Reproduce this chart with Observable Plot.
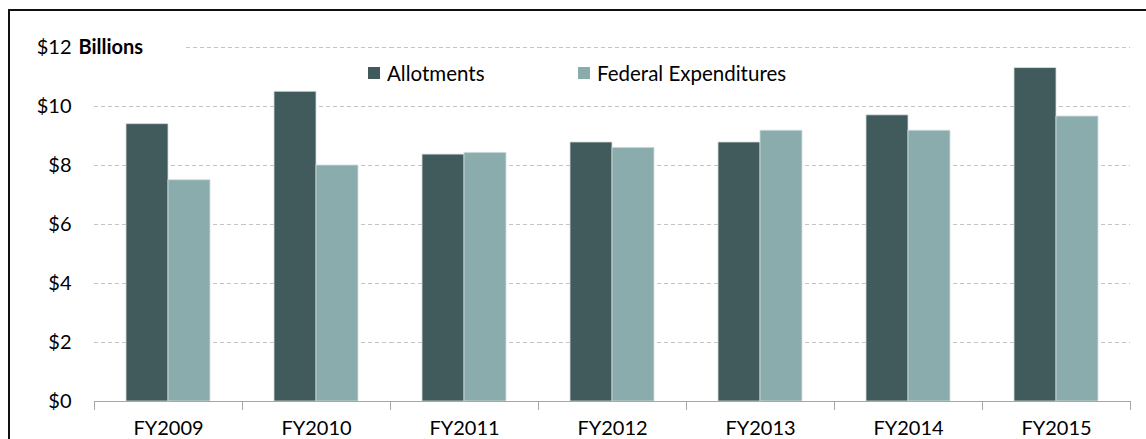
<!DOCTYPE html>
<html><head><meta charset="utf-8">
<script src="https://cdn.jsdelivr.net/npm/d3@7"></script>
<script src="https://cdn.jsdelivr.net/npm/@observablehq/plot@0.6"></script>
<style>
html,body{margin:0;padding:0;background:#fff;overflow:hidden;}
#wrap{position:relative;width:1146px;height:439px;overflow:hidden;}
#frame{position:absolute;left:8px;top:9px;width:1200px;height:500px;border:2px solid #111;box-sizing:border-box;}
#chart{position:absolute;left:0;top:0;}
.lg{position:absolute;top:61px;font:20.5px Lato,sans-serif;color:#000;display:flex;align-items:center;white-space:nowrap;}
.lg i{display:inline-block;width:12px;height:12px;margin-right:7px;}
</style></head>
<body>
<div id="wrap">
  <div id="frame"></div>
  <div id="chart"></div>
  <div id="legend"></div>
</div>
<script>
const years = ["FY2009","FY2010","FY2011","FY2012","FY2013","FY2014","FY2015"];
const seriesNames = ["Allotments","Federal Expenditures"];
const allotments = [9.4, 10.5, 8.37, 8.78, 8.78, 9.7, 11.3];
const federalExpenditures = [7.5, 8.0, 8.43, 8.6, 9.18, 9.18, 9.66];
const yTicks = [0, 2, 4, 6, 8, 10, 12];
const colors = ["#415a5b", "#8aacac"];

const data = years.flatMap((y, i) => [
  {year: y, series: seriesNames[0], value: allotments[i]},
  {year: y, series: seriesNames[1], value: federalExpenditures[i]}
]);
const topTick = yTicks[yTicks.length - 1];
const topGrid = years.map(y => ({year: y, v: topTick}));

const chart = Plot.plot({
  width: 1146, height: 460,
  marginLeft: 91, marginRight: 14, marginTop: 47, marginBottom: 59,
  style: {fontFamily: "Lato, sans-serif", fontSize: "20px", color: "#000", background: "transparent", overflow: "visible"},
  fx: {domain: years, padding: 0, label: null, tickSize: 0, tickPadding: 19},
  x: {domain: seriesNames, paddingInner: 0, paddingOuter: 0.76, axis: null},
  y: {domain: [0, 12], axis: null},
  color: {domain: seriesNames, range: colors},
  marks: [
    Plot.ruleY(yTicks.filter(d => d > 0 && d < topTick), {stroke: "#c4c4c4", strokeDasharray: "4,3"}),
    Plot.ruleY(topGrid.slice(1), {fx: "year", y: "v", stroke: "#c4c4c4", strokeDasharray: "4,3"}),
    Plot.ruleY(topGrid.slice(0, 1), {fx: "year", y: "v", insetLeft: 92, stroke: "#c4c4c4", strokeDasharray: "4,3"}),
    Plot.barY(data, {fx: "year", x: "series", y: "value", fill: "series", stroke: "#d4dddd", strokeWidth: 0.8}),
    Plot.ruleY([0], {stroke: "#a6a6a6", strokeWidth: 1}),
    Plot.frame({anchor: "left", insetTop: 354, insetBottom: -8, stroke: "#a6a6a6"}),
    Plot.frame({anchor: "right", insetTop: 354, insetBottom: -8, stroke: "#a6a6a6"}),
    Plot.axisY(yTicks, {tickSize: 0, tickPadding: 23, tickFormat: d => "$" + d, fontSize: 20}),
    Plot.text(topGrid.slice(0, 1), {fx: "year", y: "v", text: () => "Billions", frameAnchor: "left", dx: -16, textAnchor: "start", fontWeight: "bold", fontSize: 20})
  ]
});
document.getElementById("chart").appendChild(chart);

const legend = document.getElementById("legend");
const legendLeft = [368, 578];
seriesNames.forEach((s, i) => {
  const el = document.createElement("div");
  el.className = "lg";
  el.style.left = legendLeft[i] + "px";
  el.innerHTML = `<i style="background:${colors[i]}"></i><span>${s}</span>`;
  legend.appendChild(el);
});
</script>
</body></html>
